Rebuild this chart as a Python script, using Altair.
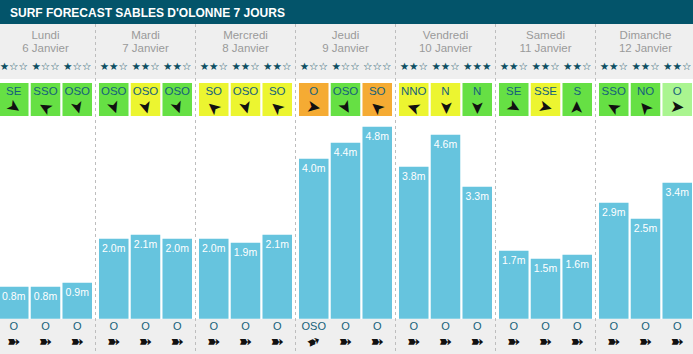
import altair as alt
import pandas as pd

days = ["Lundi", "Mardi", "Mercredi", "Jeudi", "Vendredi", "Samedi", "Dimanche"]
dates = ["6 Janvier", "7 Janvier", "8 Janvier", "9 Janvier", "10 Janvier", "11 Janvier", "12 Janvier"]

# 3 forecasts per day
wave_height = [0.8, 0.8, 0.9, 2.0, 2.1, 2.0, 2.0, 1.9, 2.1, 4.0, 4.4, 4.8,
               3.8, 4.6, 3.3, 1.7, 1.5, 1.6, 2.9, 2.5, 3.4]
stars = [1, 1, 1, 2, 2, 2, 2, 2, 2, 1, 1, 0, 2, 2, 3, 2, 2, 2, 2, 2, 2]
wind_dir = ["SE", "SSO", "OSO", "OSO", "OSO", "OSO", "SO", "OSO", "SO", "O", "OSO", "SO",
            "NNO", "N", "N", "SE", "SSE", "S", "SSO", "NO", "O"]
wind_arrow_angle = [35, 210, 75, 70, 75, 70, 220, 75, 220, 10, 60, 220,
                    200, 90, 90, 30, 15, 270, 210, 230, 5]
wind_level = ["vert", "vert", "vert", "vert", "jaune", "vert", "jaune", "jaune", "jaune",
              "orange", "vert", "orange", "jaune", "jaune", "vert", "vert", "jaune", "vert",
              "vert", "vert", "vert clair"]
swell_dir = ["O", "O", "O", "O", "O", "O", "O", "O", "O", "OSO", "O", "O",
             "O", "O", "O", "O", "O", "O", "O", "O", "O"]
swell_arrow_angle = [0, 0, 0, 0, 0, 0, 0, 0, 0, 335, 0, 0, 0, 0, 0, 0, 0, 0, 0, 0, 0]

level_domain = ["vert clair", "vert", "jaune", "orange"]
level_colors = ["#aaf590", "#66e044", "#ecf530", "#f5ab33"]

rows = []
for i, h in enumerate(wave_height):
    rows.append({
        "day": days[i // 3],
        "slot": i % 3,
        "height": h,
        "label": f"{h:.1f}m",
        "stars": "★" * stars[i] + "☆" * (3 - stars[i]),
        "wind": wind_dir[i],
        "wangle": wind_arrow_angle[i],
        "level": wind_level[i],
        "swell": swell_dir[i],
        "sangle": swell_arrow_angle[i],
    })
df = pd.DataFrame(rows)
df_days = pd.DataFrame({"day": days, "date": dates})
df_sep = pd.DataFrame({"day": days[1:]})
one = pd.DataFrame({"k": [0]})

FONT = "Liberation Sans"
TEAL = "#15617a"

x_scale = alt.Scale(domain=days, range=[-4.5, 695.5], paddingInner=0, paddingOuter=0)
X = alt.X("day:N", scale=x_scale, axis=None)
XO = alt.XOffset("slot:O", scale=alt.Scale(paddingInner=0.07, paddingOuter=0.11))
y_scale = alt.Scale(domain=[0, 8], range=[318.7, -1.3])

bg_top = alt.Chart(one).mark_rect(color="#03546a").encode(
    x=alt.value(0), x2=alt.value(693), y=alt.value(0), y2=alt.value(24))
bg_head = alt.Chart(one).mark_rect(color="#efefef").encode(
    x=alt.value(0), x2=alt.value(693), y=alt.value(24), y2=alt.value(79))
bg_foot = alt.Chart(one).mark_rect(color="#efefef").encode(
    x=alt.value(0), x2=alt.value(693), y=alt.value(319), y2=alt.value(354))
title = alt.Chart(one).mark_text(
    text="SURF FORECAST SABLES D'OLONNE 7 JOURS", color="white", font=FONT,
    fontWeight="bold", fontSize=12, align="left", baseline="middle").encode(
    x=alt.value(10), y=alt.value(12.5))

sep = alt.Chart(df_sep).mark_rule(color="#bdbdbd", strokeDash=[3, 3], strokeWidth=1).encode(
    x=alt.X("day:N", scale=x_scale, axis=None, bandPosition=0),
    y=alt.value(24), y2=alt.value(354))

day_name = alt.Chart(df_days).mark_text(color="#9a9a9a", font=FONT, fontSize=11.5).encode(
    x=X, y=alt.value(35.5), text="day:N")
day_date = alt.Chart(df_days).mark_text(color="#9a9a9a", font=FONT, fontSize=11.5).encode(
    x=X, y=alt.value(48.5), text="date:N")

base = alt.Chart(df)
star_txt = base.mark_text(color="#0d4f63", font="DejaVu Sans", fontSize=10.5).encode(
    x=X, xOffset=XO, y=alt.value(67), text="stars:N")

boxes = base.mark_bar().encode(
    x=X, xOffset=XO, y=alt.value(83), y2=alt.value(116),
    color=alt.Color("level:N", scale=alt.Scale(domain=level_domain, range=level_colors), legend=None))
wind_txt = base.mark_text(color=TEAL, font=FONT, fontSize=11.5).encode(
    x=X, xOffset=XO, y=alt.value(92), text="wind:N")
wind_arr = base.mark_text(color="#111111", font="DejaVu Sans", fontSize=17).encode(
    x=X, xOffset=XO, y=alt.value(107.5), text=alt.value("➤"), angle=alt.Angle("wangle:Q", scale=None))

bars = base.mark_bar(color="#66c4de").encode(
    x=X, xOffset=XO, y=alt.Y("height:Q", scale=y_scale, axis=None))
bar_lbl = base.mark_text(color="white", font=FONT, fontSize=10.5, dy=10).encode(
    x=X, xOffset=XO, y=alt.Y("height:Q", scale=y_scale, axis=None), text="label:N")

swell_txt = base.mark_text(color=TEAL, font=FONT, fontSize=11).encode(
    x=X, xOffset=XO, y=alt.value(327), text="swell:N")
swell_arr = base.mark_text(color="#111111", font="DejaVu Sans", fontSize=16).encode(
    x=X, xOffset=XO, y=alt.value(342), text=alt.value("➽"), angle=alt.Angle("sangle:Q", scale=None))

chart = alt.layer(
    bg_top, bg_head, bg_foot, sep, title, day_name, day_date, star_txt,
    boxes, wind_txt, wind_arr, bars, bar_lbl, swell_txt, swell_arr
).resolve_scale(color="independent").properties(
    width=693, height=354, padding=0,
    autosize=alt.AutoSizeParams(type="none"),
    background="white"
).configure_view(stroke=None)

chart.save("out.html", embed_options={"renderer": "svg", "actions": False})
